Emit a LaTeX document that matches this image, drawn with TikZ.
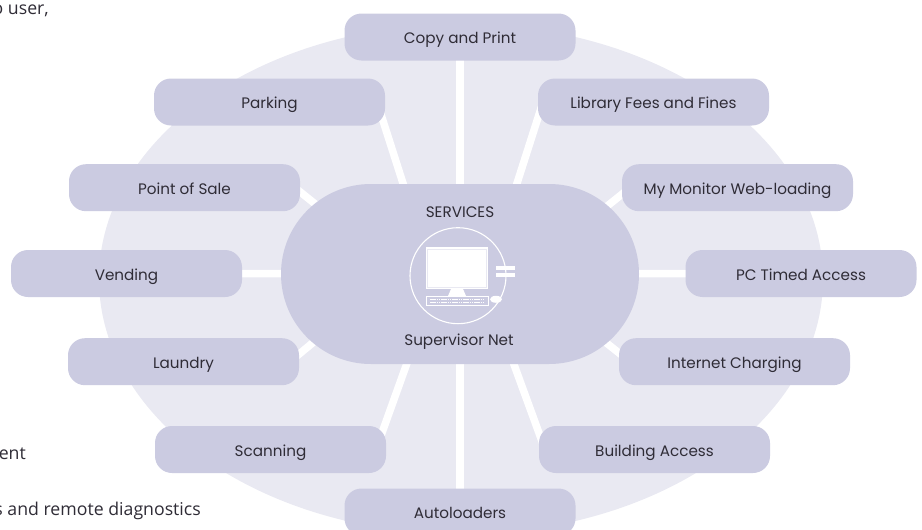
\documentclass[tikz,border=0pt]{standalone}
\usepackage{fontspec}
\setmainfont{Poppins}
\newfontfamily\notefont{Open Sans}
\usetikzlibrary{backgrounds,shapes.geometric}
\definecolor{boxfill}{HTML}{CBCBE1}
\definecolor{discfill}{HTML}{E9E9F2}
\definecolor{inkdark}{HTML}{2F2C36}
\tikzset{
    service/.style={fill=boxfill,rounded corners=17pt,minimum width=231pt,minimum height=47pt,inner sep=0pt,text=inkdark,text height=14pt,text depth=1pt,font=\fontsize{15.2}{17}\selectfont},
    hubbox/.style={fill=boxfill,rounded corners=89.9pt,minimum width=358pt,minimum height=180pt,inner sep=0pt},
    hubtext/.style={anchor=base,inner sep=0pt,text=inkdark,font=\fontsize{15.2}{17}\selectfont},
    spoke/.style={draw=white,line width=7.5pt},
    icon/.style={draw=white,line width=1.1pt},
    note/.style={inner sep=0pt,text=inkdark,font=\notefont\fontsize{17.7}{20}\selectfont}
}
\begin{document}
\begin{tikzpicture}[x=1pt,y=-1pt]
\useasboundingbox (0,0) rectangle (922,530);
% Service boxes
\node[hubbox] (hub) at (460,274){};
\node[service] (copy) at (460,37){Copy and Print};
\node[service] (parking) at (269.5,102){Parking};
\node[service] (library) at (653.5,102){Library Fees and Fines};
\node[service] (point) at (184.5,187.7){Point of Sale};
\node[service] (monitor) at (737.5,187.7){My Monitor Web-loading};
\node[service] (vending) at (126.5,273.5){Vending};
\node[service] (timed) at (801,273.5){PC Timed Access};
\node[service] (laundry) at (183.5,361.7){Laundry};
\node[service] (internet) at (734.5,361.7){Internet Charging};
\node[service] (scanning) at (270.5,449.5){Scanning};
\node[service] (building) at (654.5,449.5){Building Access};
\node[service] (auto) at (460,512){Autoloaders};
\node[hubtext] (services) at (460,217){SERVICES};
\node[hubtext] (super) at (459,345.7){Supervisor Net};
% Text cut off by the page
\node[note,anchor=base east] (noteA) at (49,14){o user,};
\node[note,anchor=base east] (noteB) at (26,459){ent};
\node[note,anchor=base east] (noteC) at (201,515){s and remote diagnostics};
% Disc and spokes
\begin{pgfonlayer}{background}
\node[fill=discfill,ellipse,minimum width=724pt,minimum height=510pt,inner sep=0pt] (disc) at (461,279){};
\draw[spoke] (hub.center) -- (copy.center);
\draw[spoke] (hub.center) -- (auto.center);
\draw[spoke] (hub.center) -- (vending.center);
\draw[spoke] (hub.center) -- (timed.center);
\draw[spoke] ([shift={(107.5,0)}]parking.center) -- ([shift={(-28,0)}]hub.center);
\draw[spoke] ([shift={(-110.5,0)}]library.center) -- ([shift={(28,0)}]hub.center);
\draw[spoke] ([shift={(105.5,0)}]scanning.center) -- ([shift={(-21,0)}]hub.center);
\draw[spoke] ([shift={(-109.5,0)}]building.center) -- ([shift={(21,0)}]hub.center);
\draw[spoke] ([shift={(110.5,0)}]point.center) -- ([shift={(-115,-46)}]hub.center);
\draw[spoke] ([shift={(-107.5,0)}]monitor.center) -- ([shift={(120,-46)}]hub.center);
\draw[spoke] ([shift={(106.5,0)}]laundry.center) -- ([shift={(-115,42)}]hub.center);
\draw[spoke] ([shift={(-104.5,0)}]internet.center) -- ([shift={(115,44)}]hub.center);
\end{pgfonlayer}
% Computer icon
\draw[icon] (458,275.7) circle (48);
\fill[white] (426,247.3) rectangle (487.7,289);
\draw[discfill,line width=0.6pt] (427.6,248.9) rectangle (486.1,287.4);
\fill[white] (451,289) -- (463,289) -- (466,296) -- (448,296) -- cycle;
\draw[white,line width=0.7pt] (426,296.7) rectangle (488,305);
\draw[white,line width=1.2pt,dash pattern=on 1.5pt off 0.7pt] (430,299.3) -- (485,299.3);
\draw[white,line width=1.2pt,dash pattern=on 1.5pt off 0.7pt] (430,302.3) -- (485,302.3);
\fill[white] (496,299.3) ellipse (6 and 3.5);
\fill[white] (496,266) rectangle (514.7,270);
\fill[white] (496,272.8) rectangle (514.7,277.3);
\end{tikzpicture}
\end{document}
